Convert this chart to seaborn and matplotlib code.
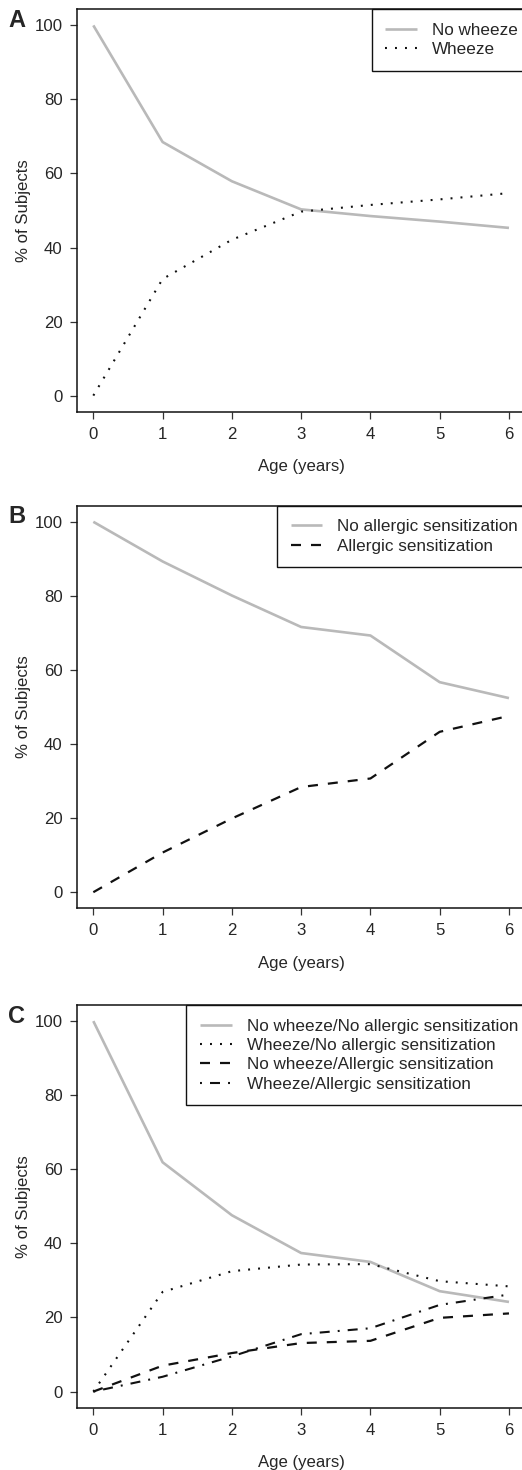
import matplotlib
matplotlib.use("Agg")
import matplotlib.pyplot as plt
import seaborn as sns

# x axis: age in years
ages = [0, 1, 2, 3, 4, 5, 6]

# panel A
no_wheeze = [100, 68.5, 57.9, 50.3, 48.5, 47.0, 45.3]
wheeze = [0, 31.5, 42.1, 49.7, 51.5, 53.0, 54.7]

# panel B
no_allergic = [100, 89.3, 80.1, 71.6, 69.3, 56.7, 52.4]
allergic = [0, 10.7, 19.9, 28.4, 30.7, 43.3, 47.6]

# panel C
nw_na = [100, 61.9, 47.6, 37.4, 35.0, 27.1, 24.2]
w_na = [0, 26.9, 32.5, 34.3, 34.4, 29.8, 28.4]
nw_a = [0, 7.0, 10.4, 13.1, 13.7, 19.9, 21.1]
w_a = [0, 4.0, 9.5, 15.5, 17.1, 23.4, 26.2]

y_ticks = [0, 20, 40, 60, 80, 100]

sns.set_style("ticks")
plt.rcParams['font.family'] = ['Liberation Sans', 'DejaVu Sans']
plt.rcParams['lines.scale_dashes'] = False

GRAY = '#b9b9b9'
styles = {
    'solid': dict(color=GRAY, linewidth=1.9, linestyle='-'),
    'dot': dict(color='#111111', linewidth=1.5, linestyle=(0, (1.4, 5.8))),
    'dash': dict(color='#111111', linewidth=1.6, linestyle=(0, (7.2, 7.2))),
    'dashdot': dict(color='#111111', linewidth=1.5, linestyle=(0, (1.4, 5.8, 7.2, 5.8))),
}

W, H = 522, 1470
fig = plt.figure(figsize=(W / 100, H / 100), dpi=100)

FS = 12.1      # ticks / axis labels
LEG_FS = 12.3  # legend text
AX_W = 525.6 - 76.7


def make_ax(top, bottom):
    left, right = 76.7, 525.6
    return fig.add_axes([left / W, 1 - bottom / H, (right - left) / W, (bottom - top) / H])


def draw_panel(ax, series, letter, letter_y):
    for vals, lab, st in series:
        sns.lineplot(x=ages, y=vals, ax=ax, label=lab, solid_capstyle='butt',
                     dash_capstyle='butt', **styles[st])
    ax.set_xlim(-0.24, 6.24)
    ax.set_ylim(-4.32, 104.32)
    ax.set_xticks(ages)
    ax.set_yticks(y_ticks)
    ax.tick_params(direction='out', length=5, width=0.9, color='#333333',
                   labelsize=FS, pad=5)
    ax.tick_params(axis='x', pad=6)
    for sp in ax.spines.values():
        sp.set_visible(True)
        sp.set_linewidth(1.1)
        sp.set_color('#111111')
    ax.set_xlabel('Age (years)', fontsize=FS, labelpad=12.5)
    ax.set_ylabel('% of Subjects', fontsize=FS, labelpad=3)
    leg = ax.legend(loc='upper right', bbox_to_anchor=(1.0 + 6 / AX_W, 1.0), borderaxespad=0,
                    frameon=True, fancybox=False, framealpha=1, edgecolor='#111111',
                    fontsize=LEG_FS, handlelength=1.87, handletextpad=0.86,
                    borderpad=0.8, labelspacing=0.25)
    leg.get_frame().set_linewidth(1.0)
    fig.text(8 / W, 1 - letter_y / H, letter, fontsize=17, fontweight='bold',
             va='baseline', ha='left')


ax_a = make_ax(9.4, 411.6)
draw_panel(ax_a, [(no_wheeze, 'No wheeze', 'solid'),
                  (wheeze, 'Wheeze', 'dot')], 'A', 27.3)

ax_b = make_ax(505.8, 908.2)
draw_panel(ax_b, [(no_allergic, 'No allergic sensitization', 'solid'),
                  (allergic, 'Allergic sensitization', 'dash')], 'B', 523.3)

ax_c = make_ax(1005.1, 1407.6)
draw_panel(ax_c, [(nw_na, 'No wheeze/No allergic sensitization', 'solid'),
                  (w_na, 'Wheeze/No allergic sensitization', 'dot'),
                  (nw_a, 'No wheeze/Allergic sensitization', 'dash'),
                  (w_a, 'Wheeze/Allergic sensitization', 'dashdot')], 'C', 1022.7)

fig.savefig('out.png', dpi=100)
